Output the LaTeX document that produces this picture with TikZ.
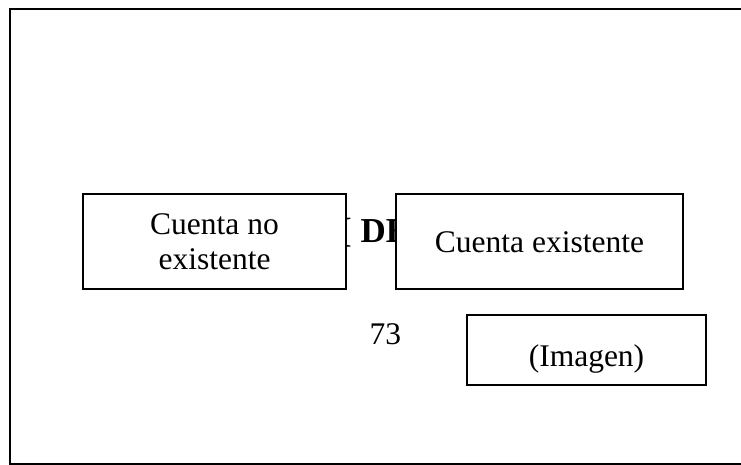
\documentclass[tikz,border=0pt]{standalone}
\usepackage{fontspec}
\setmainfont{Liberation Serif}
\begin{document}
\begin{tikzpicture}[x=1pt,y=1pt,
  box/.style={draw=black, line width=2pt, fill=white, rectangle, inner sep=0pt, font=\fontsize{31.5}{35}\selectfont},
  plain/.style={inner sep=0pt, font=\fontsize{31.5}{35}\selectfont},
  boldtxt/.style={inner sep=0pt, font=\fontsize{35}{40}\selectfont\bfseries}]
\useasboundingbox (0,0) rectangle (741,465);
% frame (right side lies beyond the picture)
\coordinate (ftr) at (741,456);
\coordinate (ftl) at (10,456);
\coordinate (fbl) at (10,1);
\coordinate (fbr) at (741,1);
\draw[line width=2pt] (ftr) -- (ftl) -- (fbl) -- (fbr);
% partly hidden heading and page number
\node[boldtxt, anchor=base west] (head) at (340,222) {[ DE};
\node[plain, anchor=base west] (page) at (369.5,120) {73};
% boxes
\node[box, minimum width=263pt, minimum height=95pt, align=center] (nox) at (214.5,223.5) {Cuenta no\\existente};
\node[box, minimum width=287pt, text height=59pt, text depth=36pt] (ex) at (539.5,223.5) {Cuenta existente};
\node[box, minimum width=239pt, text height=52pt, text depth=18pt] (img) at (586.5,115) {(Imagen)};
\end{tikzpicture}
\end{document}
